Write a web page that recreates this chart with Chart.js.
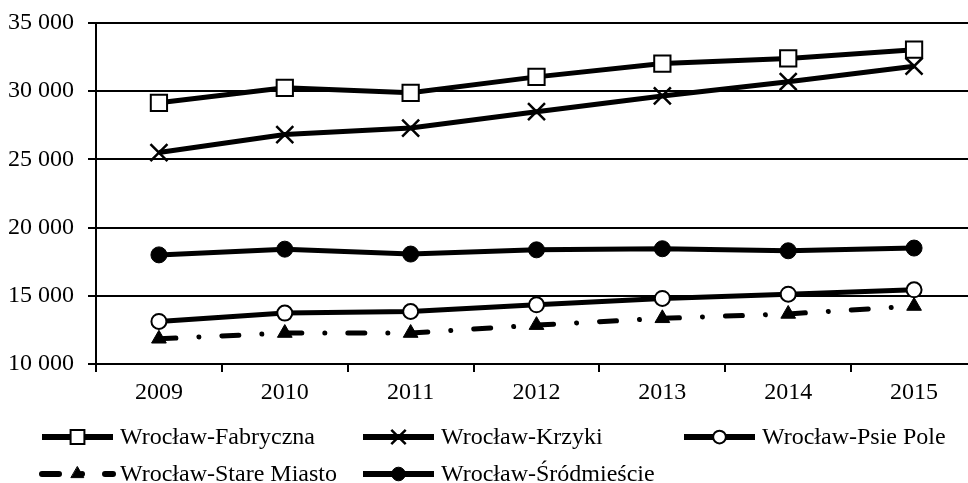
<!DOCTYPE html>
<html>
<head>
<meta charset="utf-8">
<script src="https://cdn.jsdelivr.net/npm/chart.js@4/dist/chart.umd.min.js"></script>
<style>
  html, body { margin: 0; padding: 0; background: #fff; overflow: hidden; }
  #wrap { width: 968px; height: 483px; overflow: hidden; }
  canvas { display: block; }
</style>
</head>
<body>
<div id="wrap"><canvas id="chart" width="980" height="483"></canvas></div>
<script>
var years = ['2009', '2010', '2011', '2012', '2013', '2014', '2015'];
var fabryczna = [29150, 30250, 29880, 31050, 32030, 32400, 33040];
var krzyki = [25500, 26820, 27300, 28500, 29650, 30700, 31830];
var psiePole = [13120, 13730, 13850, 14340, 14810, 15120, 15440];
var stareMiasto = [11850, 12270, 12270, 12850, 13350, 13670, 14250];
var srodmiescie = [18000, 18420, 18060, 18370, 18450, 18300, 18500];
var yTicks = [10000, 15000, 20000, 25000, 30000, 35000];

var FONT = '"Liberation Serif", "Times New Roman", serif';

function fmt(v) {
  return String(v).replace(/\B(?=(\d{3})+(?!\d))/g, ' ');
}

// legend drawn by hand: line sample with the marker in the middle
var legendPlugin = {
  id: 'sampleLegend',
  afterDraw: function (chart) {
    var ctx = chart.ctx;
    var cols = [42, 363, 684];
    var rows = [437, 474];
    chart.data.datasets.forEach(function (ds, i) {
      var x = cols[i % 3];
      var y = rows[Math.floor(i / 3)];
      ctx.save();
      ctx.strokeStyle = '#000';
      ctx.lineWidth = 6;
      ctx.lineCap = ds.borderDash ? 'round' : 'butt';
      ctx.setLineDash(ds.borderDash || []);
      ctx.beginPath();
      ctx.moveTo(x, y);
      ctx.lineTo(x + 71, y);
      ctx.stroke();
      ctx.setLineDash([]);
      ctx.fillStyle = ds.pointBackgroundColor;
      ctx.strokeStyle = '#000';
      ctx.lineWidth = ds.pointBorderWidth;
      Chart.helpers.drawPoint(ctx, {
        pointStyle: ds.pointStyle,
        radius: ds.pointRadius * 0.85,
        rotation: 0,
        borderWidth: ds.pointBorderWidth
      }, x + 35.5, y);
      ctx.fillStyle = '#000';
      ctx.font = '24px ' + FONT;
      ctx.textBaseline = 'middle';
      ctx.textAlign = 'left';
      ctx.fillText(ds.label, x + 78, y + 1);
      ctx.restore();
    });
  }
};

new Chart(document.getElementById('chart'), {
  type: 'line',
  data: {
    labels: years,
    datasets: [{
      label: 'Wrocław-Fabryczna',
      data: fabryczna,
      borderColor: '#000',
      borderWidth: 5,
      pointStyle: 'rect',
      pointRadius: 11.5,
      pointBorderWidth: 2,
      pointBackgroundColor: '#fff',
      pointBorderColor: '#000'
    }, {
      label: 'Wrocław-Krzyki',
      data: krzyki,
      borderColor: '#000',
      borderWidth: 5,
      pointStyle: 'crossRot',
      pointRadius: 12,
      pointBorderWidth: 2.5,
      pointBackgroundColor: '#fff',
      pointBorderColor: '#000'
    }, {
      label: 'Wrocław-Psie Pole',
      data: psiePole,
      borderColor: '#000',
      borderWidth: 5,
      pointStyle: 'circle',
      pointRadius: 7.5,
      pointBorderWidth: 2,
      pointBackgroundColor: '#fff',
      pointBorderColor: '#000'
    }, {
      label: 'Wrocław-Stare Miasto',
      data: stareMiasto,
      borderColor: '#000',
      borderWidth: 5,
      borderDash: [17, 23, 0.01, 23],
      borderCapStyle: 'round',
      pointStyle: 'triangle',
      pointRadius: 8.5,
      pointBorderWidth: 1,
      pointBackgroundColor: '#000',
      pointBorderColor: '#000'
    }, {
      label: 'Wrocław-Śródmieście',
      data: srodmiescie,
      borderColor: '#000',
      borderWidth: 5,
      pointStyle: 'circle',
      pointRadius: 8,
      pointBorderWidth: 1,
      pointBackgroundColor: '#000',
      pointBorderColor: '#000'
    }]
  },
  options: {
    responsive: false,
    animation: false,
    layout: { autoPadding: false, padding: { top: 23, left: 0, right: 3, bottom: 74 } },
    plugins: { legend: { display: false }, tooltip: { enabled: false } },
    elements: { line: { tension: 0 } },
    scales: {
      x: {
        offset: true,
        grid: { display: true, offset: true, drawOnChartArea: false, drawTicks: true, tickLength: 8, color: '#000', lineWidth: 2 },
        border: { display: true, color: '#000', width: 2 },
        ticks: { color: '#000', font: { family: FONT, size: 24 }, padding: 6 },
        afterFit: function (scale) { scale.height = 45; }
      },
      y: {
        min: 10000,
        max: 35000,
        afterBuildTicks: function (scale) {
          scale.ticks = yTicks.map(function (v) { return { value: v }; });
        },
        grid: { color: '#000', lineWidth: 2, tickLength: 8 },
        border: { display: true, color: '#000', width: 2 },
        ticks: {
          color: '#000',
          font: { family: FONT, size: 24 },
          padding: 14,
          callback: function (v) { return fmt(v); }
        },
        afterFit: function (scale) {
          scale.width = 96;
          scale.paddingTop = 0;
          scale.paddingBottom = 0;
        }
      }
    }
  },
  plugins: [legendPlugin]
});
</script>
</body>
</html>
